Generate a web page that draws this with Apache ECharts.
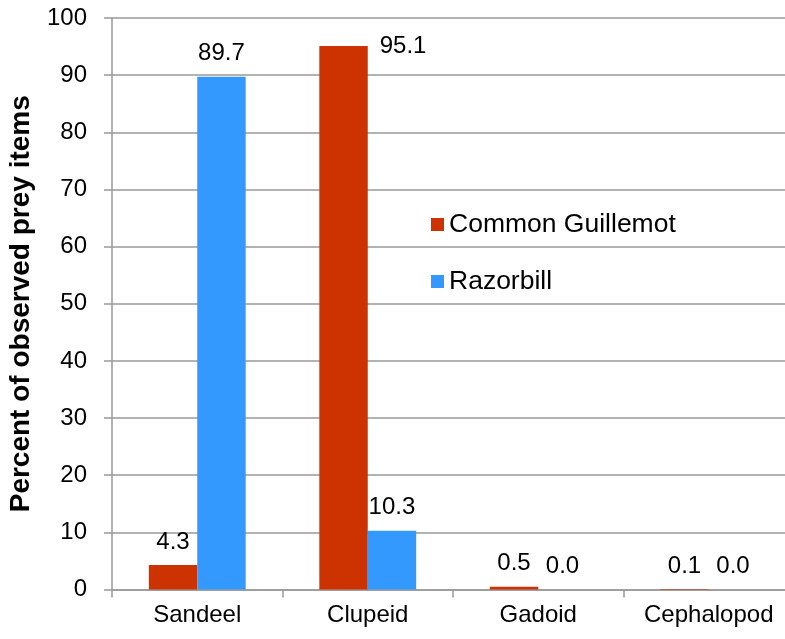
<!DOCTYPE html>
<html>
<head>
<meta charset="utf-8">
<script src="https://cdn.jsdelivr.net/npm/echarts@6/dist/echarts.min.js"></script>
<style>
  html, body { margin: 0; padding: 0; background: #fff; }
  #chart { width: 785px; height: 639px; }
</style>
</head>
<body>
<div id="chart"></div>
<script>
const categories = ['Sandeel', 'Clupeid', 'Gadoid', 'Cephalopod']
const guillemot = [4.3, 95.1, 0.5, 0.1]
const razorbill = [89.7, 10.3, 0.0, 0.0]
const yTicks = { min: 0, max: 100, interval: 10 }

const redColor = '#cc3300'
const blueColor = '#3399ff'
const gridColor = '#999999'
const font = '"Liberation Sans", Arial, sans-serif'

const chart = echarts.init(document.getElementById('chart'))

const labelStyle = {
  show: true,
  position: 'top',
  distance: 11,
  color: '#000',
  fontSize: 24,
  fontFamily: font,
  formatter: p => p.value.toFixed(1),
}

chart.setOption({
  animation: false,
  backgroundColor: '#fff',
  legend: {
    orient: 'vertical',
    left: 426,
    top: 206,
    itemWidth: 13,
    itemHeight: 13,
    itemGap: 30,
    icon: 'rect',
    textStyle: { color: '#000', fontSize: 26.5, fontFamily: font },
    data: ['Common Guillemot', 'Razorbill'],
  },
  grid: { left: 112, right: -9, top: 18, bottom: 49.5, containLabel: false, outerBoundsMode: 'none' },
  xAxis: {
    type: 'category',
    data: categories,
    axisLine: { lineStyle: { color: gridColor, width: 1.5 } },
    axisTick: { show: true, interval: 0, length: 8, lineStyle: { color: gridColor, width: 1.5 } },
    axisLabel: { interval: 0, color: '#000', fontSize: 24, fontFamily: font, margin: 14 },
  },
  yAxis: {
    type: 'value',
    ...yTicks,
    name: 'Percent of observed prey items',
    nameLocation: 'middle',
    nameGap: 77,
    nameTextStyle: { color: '#000', fontSize: 28, fontWeight: 'bold', fontFamily: font },
    axisLine: { show: true, lineStyle: { color: gridColor, width: 1.5 } },
    axisTick: { show: true, length: 8, lineStyle: { color: gridColor, width: 1.5 } },
    splitLine: { lineStyle: { color: gridColor, width: 1.5 } },
    axisLabel: { color: '#000', fontSize: 24, fontFamily: font, margin: 25 },
  },
  series: [
    {
      name: 'Common Guillemot',
      type: 'bar',
      barWidth: '28.4%',
      barGap: '0%',
      itemStyle: { color: redColor },
      label: labelStyle,
      data: guillemot.map((v, i) => i === 1
        ? { value: v, label: { position: ['100%', 0], offset: [12, 0], align: 'left', verticalAlign: 'middle' } }
        : v),
    },
    {
      name: 'Razorbill',
      type: 'bar',
      barWidth: '28.4%',
      barGap: '0%',
      itemStyle: { color: blueColor },
      label: labelStyle,
      data: razorbill,
    },
  ],
})
</script>
</body>
</html>
